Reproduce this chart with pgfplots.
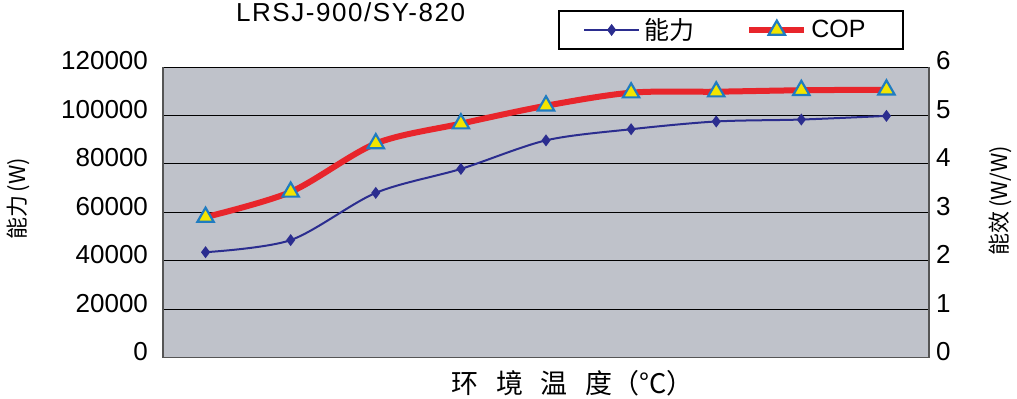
\documentclass[border=0pt]{standalone}
\usepackage{fontspec}
\setmainfont{Liberation Sans}
\newfontfamily\cjk{Noto Sans CJK SC}
\usepackage{pgfplots}
\usepackage{pgfplotstable}
\pgfplotsset{compat=1.18}
\definecolor{bgc}{HTML}{BFC2CA}
\definecolor{capblue}{HTML}{2B2D8F}
\definecolor{copred}{HTML}{E8252B}
\definecolor{triyel}{HTML}{F2E500}
\definecolor{triblue}{HTML}{1F7CC1}
\definecolor{frame}{HTML}{555555}

\pgfplotstableread{
x cap cop
0 43500 2.90
1 48500 3.42
2 68000 4.42
3 77900 4.83
4 89700 5.20
5 94300 5.47
6 97500 5.49
7 98300 5.52
8 99800 5.53
}\data

\pgfplotsset{
  every axis/.append style={
    scale only axis, width=383pt, height=145.25pt,
    xmin=-0.5, xmax=8.5, xtick=\empty,
    /pgf/number format/assume math mode=true,
    tick style={draw=none},
    axis line style={draw=frame, line width=0.8pt},
    yticklabel style={font=\fontsize{13}{13}\selectfont, yshift=3pt},
  },
}

\begin{document}
\begin{tikzpicture}
\path[use as bounding box] (-81.5pt,-20.25pt) rectangle (427pt,178.75pt);
\begin{axis}[
  at={(0,0)}, anchor=south west,
  ymin=0, ymax=120000,
  ytick={0,20000,40000,60000,80000,100000,120000},
  scaled y ticks=false,
  yticklabel style={/pgf/number format/fixed, /pgf/number format/1000 sep={}, xshift=-4pt},
  ymajorgrids, grid style={black, line width=0.5pt},
  axis background/.style={fill=bgc},
  axis y line*=left, axis x line*=bottom,
  ylabel={\cjk 能力\,(W)},
  ylabel style={font=\fontsize{11}{11}\selectfont, at={(axis description cs:-0.189,0.546)}, anchor=center, rotate=0},
  xlabel={\cjk 环\hspace{0.65em}境\hspace{0.65em}温\hspace{0.65em}度（°C）},
  xlabel style={font=\fontsize{13.5}{13.5}\selectfont, at={(axis description cs:0.535,0)}, anchor=center, yshift=-12.75pt},
  title={\addfontfeature{LetterSpace=6}LRSJ-900/SY-820},
  title style={font=\fontsize{13}{13}\selectfont, at={(axis description cs:0.245,1.148)}, anchor=center},
  clip=false,
]
\addplot[capblue, line width=1pt, smooth, mark=diamond*, mark size=2.2pt, mark options={fill=capblue}] table[x=x, y=cap] {\data};
\end{axis}
\begin{axis}[
  at={(0,0)}, anchor=south west,
  ymin=0, ymax=6,
  ytick={0,1,2,3,4,5,6},
  axis y line*=right, axis x line=none,
  yticklabel style={xshift=0pt},
  ylabel={\cjk 能效\,(W/W)},
  ylabel style={font=\fontsize{11}{11}\selectfont, at={(axis description cs:1.0927,0.54)}, anchor=center, rotate=0},
  legend columns=2,
  legend style={at={(axis description cs:0.5157,1.0585)}, anchor=south west, draw=black, line width=1pt,
    font=\fontsize{12.5}{12.5}\selectfont, inner xsep=12pt, inner ysep=1.5pt,
    /tikz/every even column/.append style={column sep=24pt}},
  legend image code/.code={
    \draw[#1] (0cm,0cm) -- (0.97cm,0cm);
    \draw[#1, mark repeat=1] plot coordinates {(0.485cm,0cm)};
  },
  clip=false,
]
\addlegendimage{capblue, line width=1pt, mark=diamond*, mark size=2.2pt, mark options={fill=capblue}}
\addlegendentry{\cjk 能力}
\addplot[copred, line width=3pt, smooth, mark=triangle*, mark size=4.7pt, mark options={fill=triyel, draw=triblue, line width=1.1pt}] table[x=x, y=cop] {\data};
\addlegendentry{COP\rule{4.5pt}{0pt}}
\end{axis}
\end{tikzpicture}
\end{document}
